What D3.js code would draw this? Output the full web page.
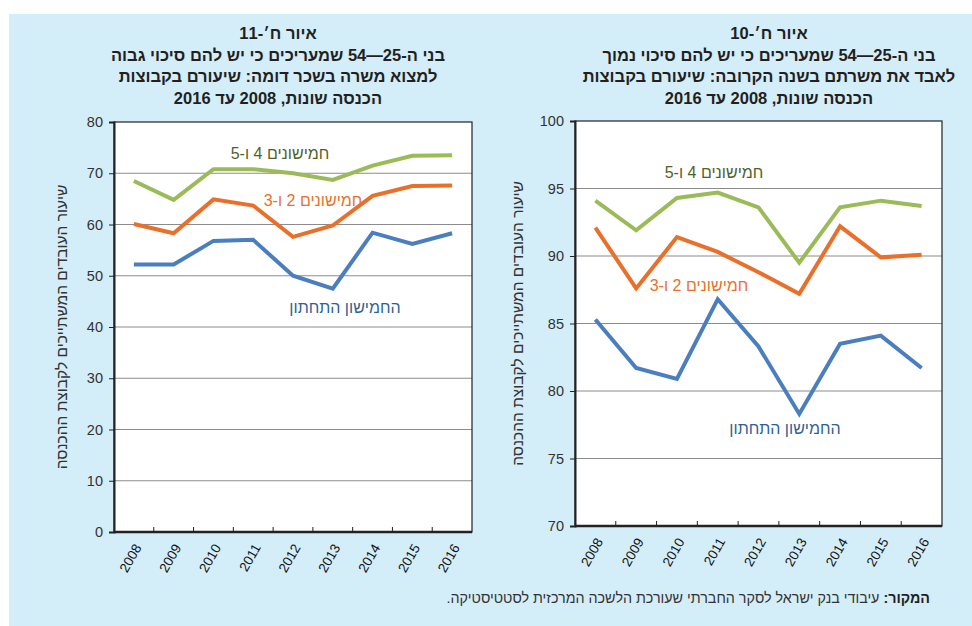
<!DOCTYPE html>
<html>
<head>
<meta charset="utf-8">
<script src="https://cdn.jsdelivr.net/npm/d3@7"></script>
<style>
  body { margin: 0; background: #fff; }
  text { font-family: "Liberation Sans", "DejaVu Sans", sans-serif; }
</style>
</head>
<body>
<div id="chart"></div>
<script>
var years = ['2008', '2009', '2010', '2011', '2012', '2013', '2014', '2015', '2016'];

// chart 11 (left): high chance to find a job with similar pay
var left_top = [68.5, 64.8, 70.8, 70.8, 70.0, 68.7, 71.5, 73.4, 73.5];
var left_mid = [60.1, 58.3, 64.9, 63.7, 57.6, 59.8, 65.6, 67.5, 67.6];
var left_low = [52.2, 52.2, 56.8, 57.0, 50.0, 47.5, 58.4, 56.2, 58.3];
var left_ticks = [0, 10, 20, 30, 40, 50, 60, 70, 80];

// chart 10 (right): low chance to lose the job in the coming year
var right_top = [94.1, 91.9, 94.3, 94.7, 93.6, 89.5, 93.6, 94.1, 93.7];
var right_mid = [92.1, 87.6, 91.4, 90.3, 88.8, 87.2, 92.2, 89.9, 90.1];
var right_low = [85.3, 81.7, 80.9, 86.8, 83.3, 78.3, 83.5, 84.1, 81.7];
var right_ticks = [70, 75, 80, 85, 90, 95, 100];

var seriesNames = ['חמישונים 4 ו-5', 'חמישונים 2 ו-3', 'החמישון התחתון'];
var lineColors = ['#9bbb59', '#e8702a', '#4a7ebf'];
var labelColors = ['#4f6228', '#e8702a', '#2f5f96'];

var yTitle = 'שיעור העובדים המשתייכים לקבוצת ההכנסה';
var leftTitle = ['איור ח׳-11', 'בני ה-25—54 שמעריכים כי יש להם סיכוי גבוה',
  'למצוא משרה בשכר דומה: שיעורם בקבוצות', 'הכנסה שונות, 2008 עד 2016'];
var rightTitle = ['איור ח׳-10', 'בני ה-25—54 שמעריכים כי יש להם סיכוי נמוך',
  'לאבד את משרתם  בשנה הקרובה: שיעורם בקבוצות', 'הכנסה שונות, 2008 עד 2016'];

var W = 972, H = 626;
var svg = d3.select('#chart').append('svg').attr('width', W).attr('height', H);

svg.append('rect')
  .attr('x', 9).attr('y', 14)
  .attr('width', W - 9).attr('height', H - 14)
  .attr('fill', '#d3edf9');

function drawPanel(cfg) {
  var g = svg.append('g');
  var x = d3.scaleBand().domain(years).range([cfg.x0, cfg.x1]);
  var y = d3.scaleLinear().domain(cfg.domain).range([cfg.y1, cfg.y0]);

  // plot background
  g.append('rect')
    .attr('x', cfg.x0).attr('y', cfg.y0)
    .attr('width', cfg.x1 - cfg.x0).attr('height', cfg.y1 - cfg.y0)
    .attr('fill', '#fff');

  // gridlines
  g.selectAll('.grid')
    .data(cfg.ticks.slice(1, -1)).enter()
    .append('line')
    .attr('x1', cfg.x0).attr('x2', cfg.x1)
    .attr('y1', d => y(d)).attr('y2', d => y(d))
    .attr('stroke', '#8c8c8c').attr('stroke-width', 1.2);

  // frame
  g.append('rect')
    .attr('x', cfg.x0).attr('y', cfg.y0)
    .attr('width', cfg.x1 - cfg.x0).attr('height', cfg.y1 - cfg.y0)
    .attr('fill', 'none').attr('stroke', '#222').attr('stroke-width', 1.2);

  // y axis
  var yAxis = g.append('g')
    .attr('transform', 'translate(' + cfg.x0 + ',0)')
    .call(d3.axisLeft(y).tickValues(cfg.ticks).tickSize(5).tickPadding(6));
  yAxis.select('.domain').attr('stroke', '#222').attr('stroke-width', 2);
  yAxis.selectAll('.tick line').attr('stroke', '#222');
  yAxis.selectAll('.tick text')
    .attr('font-size', 14.5).attr('fill', '#333')
    .style('font-family', '"Liberation Sans", sans-serif');

  // x axis: ticks between categories, pointing up
  var xb = g.append('g').attr('transform', 'translate(0,' + cfg.y1 + ')');
  xb.append('line')
    .attr('x1', cfg.x0).attr('x2', cfg.x1)
    .attr('stroke', '#222').attr('stroke-width', 2.5);
  xb.selectAll('.xt')
    .data(years.slice(1)).enter()
    .append('line')
    .attr('x1', d => x(d)).attr('x2', d => x(d))
    .attr('y1', 0).attr('y2', -5)
    .attr('stroke', '#222').attr('stroke-width', 1);
  xb.selectAll('.xl')
    .data(years).enter()
    .append('text')
    .attr('transform', d => 'translate(' + (x(d) + x.bandwidth() / 2 + 4) + ',13) rotate(-60)')
    .attr('text-anchor', 'end')
    .attr('dy', '0.35em')
    .attr('font-size', 13.5)
    .attr('fill', '#111')
    .text(d => d);

  // y title
  g.append('text')
    .attr('transform', 'translate(' + cfg.yTitleX + ',' + ((cfg.y0 + cfg.y1) / 2) + ') rotate(-90)')
    .attr('text-anchor', 'middle')
    .attr('direction', 'rtl')
    .attr('font-size', 15.5)
    .attr('fill', '#333')
    .text(yTitle);

  // lines
  var line = d3.line()
    .x((d, i) => x(years[i]) + x.bandwidth() / 2)
    .y(d => y(d));

  g.selectAll('.series')
    .data(cfg.series).enter()
    .append('path')
    .attr('d', line)
    .attr('fill', 'none')
    .attr('stroke', (d, i) => lineColors[i])
    .attr('stroke-width', 4)
    .attr('stroke-linejoin', 'miter');

  // series labels
  g.selectAll('.lbl')
    .data(cfg.labels).enter()
    .append('text')
    .attr('x', d => d[0]).attr('y', d => d[1])
    .attr('text-anchor', 'middle')
    .attr('direction', 'rtl')
    .attr('dy', '0.35em')
    .attr('font-size', 16)
    .attr('fill', (d, i) => labelColors[i])
    .text((d, i) => seriesNames[i]);

  // title
  g.selectAll('.ttl')
    .data(cfg.title).enter()
    .append('text')
    .attr('x', cfg.titleX)
    .attr('y', (d, i) => 39 + i * 21.5)
    .attr('text-anchor', 'middle')
    .attr('direction', 'rtl')
    .attr('font-size', 16.5)
    .attr('font-weight', 'bold')
    .attr('fill', '#231f20')
    .text(d => d);
}

drawPanel({
  x0: 114, x1: 472, y0: 122, y1: 532,
  domain: [0, 80], ticks: left_ticks,
  series: [left_top, left_mid, left_low],
  labels: [[280, 153], [313, 200], [345, 307]],
  yTitleX: 67, title: leftTitle, titleX: 278
});

drawPanel({
  x0: 575, x1: 942, y0: 121, y1: 526,
  domain: [70, 100], ticks: right_ticks,
  series: [right_top, right_mid, right_low],
  labels: [[714, 172], [699, 285], [785, 428]],
  yTitleX: 523, title: rightTitle, titleX: 769
});

// source note
var src = svg.append('text')
  .attr('x', 930).attr('y', 603)
  .attr('direction', 'rtl')
  .attr('text-anchor', 'start')
  .attr('font-size', 14.3)
  .attr('fill', '#333');
src.append('tspan').attr('font-weight', 'bold').attr('fill', '#231f20').text('המקור:');
src.append('tspan').text(' עיבודי בנק ישראל לסקר החברתי שעורכת הלשכה המרכזית לסטטיסטיקה.');
</script>
</body>
</html>
